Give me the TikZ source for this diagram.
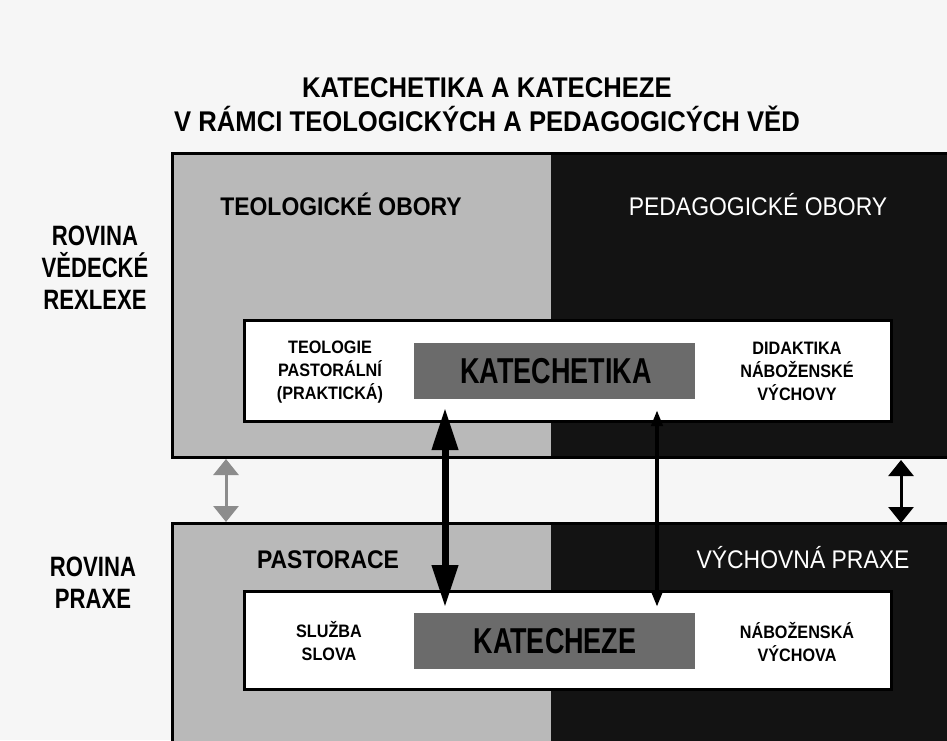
\documentclass[tikz,border=0pt]{standalone}
\usepackage{fontspec}
\setmainfont[FakeStretch=0.9]{Liberation Sans}
\newfontfamily\narrowsans[FakeStretch=0.79]{Liberation Sans}
\newfontfamily\corefont[FakeStretch=0.75]{Liberation Sans}
\usetikzlibrary{arrows.meta}

\definecolor{paper}{HTML}{F6F6F6}
\definecolor{lightpanel}{HTML}{B9B9B9}
\definecolor{darkpanel}{HTML}{131313}
\definecolor{boxgray}{HTML}{6B6B6B}
\definecolor{arrowgray}{HTML}{8C8C8C}

\begin{document}
\begin{tikzpicture}[x=1pt,y=-1pt,
	every node/.style={inner sep=0pt,align=center},
	border/.style={draw=black,line width=3pt},
	whitebox/.style={draw=black,line width=3pt,fill=white},
	corebox/.style={fill=boxgray,minimum width=281pt,minimum height=56pt},
	titletext/.style={font=\bfseries\fontsize{28.5}{34}\selectfont},
	leveltext/.style={font=\narrowsans\bfseries\fontsize{28}{32}\selectfont},
	headtext/.style={font=\bfseries\fontsize{25.5}{30}\selectfont,anchor=base},
	headwhite/.style={font=\fontsize{25.5}{30}\selectfont,text=white,anchor=base},
	coretext/.style={font=\corefont\bfseries\fontsize{36}{40}\selectfont,anchor=base},
	smalltext/.style={font=\bfseries\fontsize{18}{23}\selectfont},
	bigarrow/.style={line width=7pt,{Triangle[width=25pt,length=42pt]}-{Triangle[width=25pt,length=42pt]}},
	thinarrow/.style={line width=4pt,{Triangle[width=11pt,length=16pt]}-{Triangle[width=11pt,length=16pt]}},
	sidearrow/.style={line width=3pt,{Triangle[width=25pt,length=16pt]}-{Triangle[width=25pt,length=16pt]}}]

	\useasboundingbox (0,0) rectangle (947,740);
	\clip (0,0) rectangle (947,740);
	\fill[paper] (0,0) rectangle (947,740);

	%title
	\node[titletext] (title) at (487,105) {KATECHETIKA A KATECHEZE\\V RÁMCI TEOLOGICKÝCH A PEDAGOGICÝCH VĚD};

	%left labels
	\node[leveltext] (lvl1) at (95,268) {ROVINA\\VĚDECKÉ\\REXLEXE};
	\node[leveltext] (lvl2) at (93,583) {ROVINA\\PRAXE};

	%upper panel
	\fill[darkpanel] (551,153) rectangle (960,457);
	\fill[lightpanel] (172,153) rectangle (551,457);
	\draw[border] (172,153) rectangle (960,457);
	\node[headtext] (theo) at (341,215) {TEOLOGICKÉ OBORY};
	\node[headwhite] (peda) at (758,215) {PEDAGOGICKÉ OBORY};
	\draw[whitebox] (244,320) rectangle (891,421);
	\node[corebox] (kbox1) at (554.5,371) {};
	\node[coretext] (kat1) at (556,383) {KATECHETIKA};
	\node[smalltext] (tl) at (330,372) {TEOLOGIE\\PASTORÁLNÍ\\(PRAKTICKÁ)};
	\node[smalltext] (tr) at (797,371) {DIDAKTIKA\\NÁBOŽENSKÉ\\VÝCHOVY};

	%lower panel
	\fill[darkpanel] (551,523) rectangle (960,760);
	\fill[lightpanel] (172,523) rectangle (551,760);
	\draw[border] (172,523) rectangle (960,760);
	\node[headtext] (past) at (328,568) {PASTORACE};
	\node[headwhite] (vych) at (803,568) {VÝCHOVNÁ PRAXE};
	\draw[whitebox] (244,591) rectangle (891,689);
	\node[corebox] (kbox2) at (554.5,640.5) {};
	\node[coretext] (kat2) at (555,653) {KATECHEZE};
	\node[smalltext] (bl) at (329,641) {SLUŽBA\\SLOVA};
	\node[smalltext] (br) at (797,642) {NÁBOŽENSKÁ\\VÝCHOVA};

	%arrow ends
	\coordinate (a1) at (445,408);
	\coordinate (a2) at (445,607);
	\coordinate (b1) at (657,410);
	\coordinate (b2) at (657,607);
	\coordinate (c1) at (226,459);
	\coordinate (c2) at (226,522);
	\coordinate (d1) at (901,460);
	\coordinate (d2) at (901,523);

	%arrows
	\draw[bigarrow] (a1) -- (a2);
	\draw[thinarrow] (b1) -- (b2);
	\draw[sidearrow,arrowgray] (c1) -- (c2);
	\draw[sidearrow] (d1) -- (d2);

\end{tikzpicture}
\end{document}
